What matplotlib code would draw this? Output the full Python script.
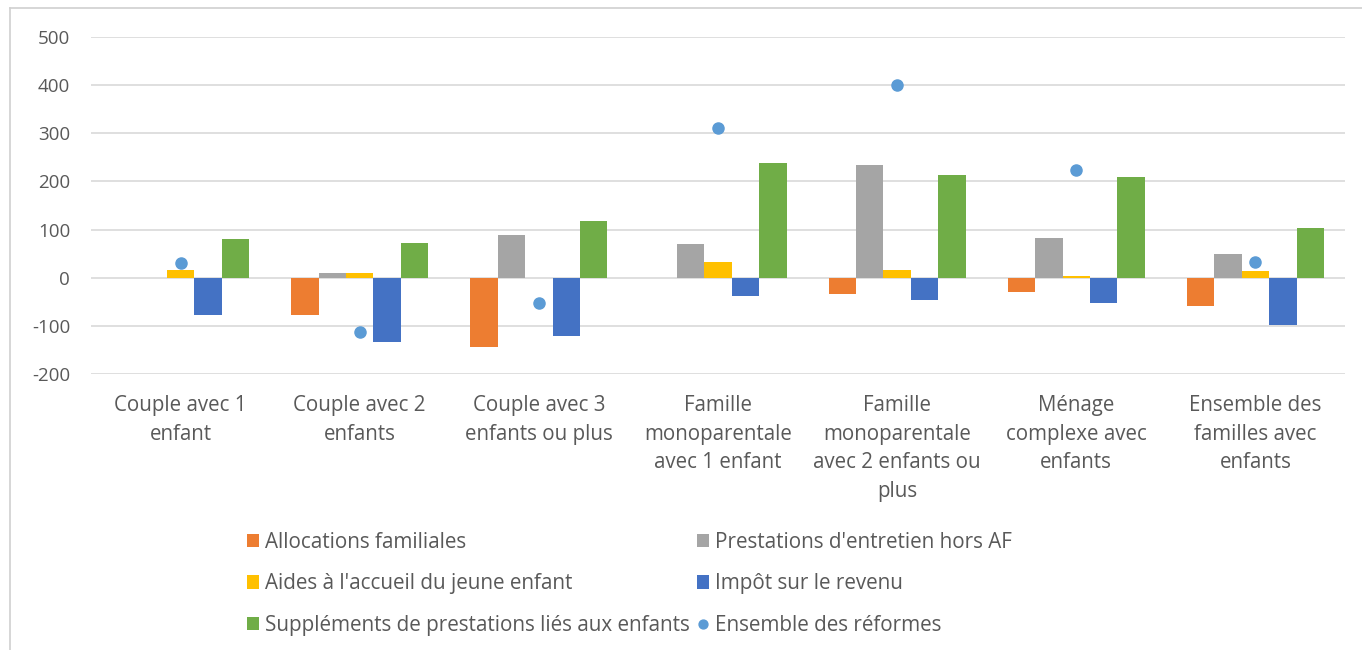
import matplotlib
matplotlib.use('Agg')
import matplotlib.pyplot as plt
from matplotlib.lines import Line2D
import numpy as np

categories = [
    'Couple avec 1\nenfant',
    'Couple avec 2\nenfants',
    'Couple avec 3\nenfants ou plus',
    'Famille\nmonoparentale\navec 1 enfant',
    'Famille\nmonoparentale\navec 2 enfants ou\nplus',
    'Ménage\ncomplexe avec\nenfants',
    'Ensemble des\nfamilles avec\nenfants',
]

allocations = [0, -78, -143, 0, -33, -30, -58]
prestations = [0, 10, 89, 70, 235, 82, 50]
aides = [17, 10, 0, 32, 17, 4, 14]
impot = [-78, -134, -121, -37, -46, -52, -99]
supplements = [80, 73, 117, 239, 213, 210, 104]
ensemble = [30, -112, -53, 311, 400, 223, 32]

series = [
    ('Allocations familiales', allocations, '#ED7D31'),
    ("Prestations d'entretien hors AF", prestations, '#A5A5A5'),
    ("Aides à l'accueil du jeune enfant", aides, '#FFC000'),
    ('Impôt sur le revenu', impot, '#4472C4'),
    ('Suppléments de prestations liés aux enfants', supplements, '#70AD47'),
]

plt.rcParams['font.family'] = ['Open Sans', 'DejaVu Sans']
plt.rcParams['axes.unicode_minus'] = False

fig = plt.figure(figsize=(13.62, 6.5), dpi=100)
ax = fig.add_axes([91 / 1362, 1 - 374 / 650, (1345 - 91) / 1362, (374 - 37) / 650])

x = np.arange(len(categories))
w = 0.153
handles = {}
for i, (nom, vals, col) in enumerate(series):
    b = ax.bar(x + (i - 2) * w, vals, w, color=col, label=nom, zorder=3)
    handles[nom] = b

pts, = ax.plot(x, ensemble, 'o', color='#5B9BD5', markersize=8, label='Ensemble des réformes', zorder=4)

ax.set_xlim(-0.5, len(categories) - 0.5)
ax.set_ylim(-200, 500)
ax.set_yticks(range(-200, 501, 100))
ax.yaxis.grid(True, color='#D9D9D9', linewidth=1.2, zorder=0)
ax.set_axisbelow(True)
for s in ax.spines.values():
    s.set_visible(False)
ax.tick_params(axis='both', length=0, colors='#595959')
ax.tick_params(axis='y', labelsize=13.5, pad=15)
ax.set_xticks(x)
ax.set_xticklabels(categories, fontsize=14.8, linespacing=1.48)
ax.tick_params(axis='x', pad=15)

# légende (remplie par colonnes)
ordre = [
    handles['Allocations familiales'],
    handles["Aides à l'accueil du jeune enfant"],
    handles['Suppléments de prestations liés aux enfants'],
    handles["Prestations d'entretien hors AF"],
    handles['Impôt sur le revenu'],
    pts,
]
noms = [
    'Allocations familiales',
    "Aides à l'accueil du jeune enfant",
    'Suppléments de prestations liés aux enfants',
    "Prestations d'entretien hors AF",
    'Impôt sur le revenu',
    'Ensemble des réformes',
]
leg = fig.legend(ordre, noms, ncol=2, loc='upper left', bbox_to_anchor=(228 / 1362, 1 - 513 / 650),
                 frameon=False, fontsize=14.9, handlelength=0.62, handleheight=0.62,
                 handletextpad=0.25, columnspacing=0.35, labelspacing=1.0, markerscale=0.8)
for t in leg.get_texts():
    t.set_color('#595959')

# cadre
fig.add_artist(Line2D([10 / 1362, 10 / 1362], [0, 1 - 8 / 650], color='#D0D0D0', linewidth=1.2))
fig.add_artist(Line2D([10 / 1362, 1], [1 - 8 / 650, 1 - 8 / 650], color='#D0D0D0', linewidth=1.2))

fig.savefig('out.png', dpi=100)
